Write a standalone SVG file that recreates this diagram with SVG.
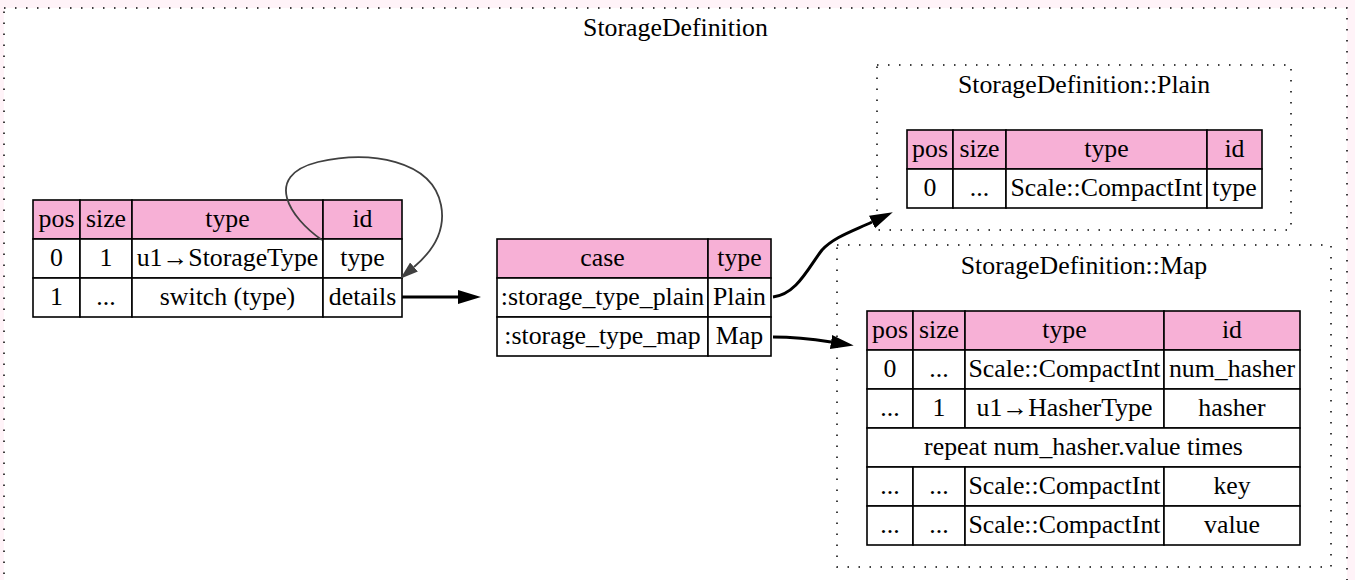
<svg xmlns="http://www.w3.org/2000/svg" width="1355" height="580" viewBox="0 0 1355 580">
<style>
.hdr{fill:#f7b0d6;stroke:#000;stroke-width:1.6}
.cell{fill:#fff;stroke:#000;stroke-width:1.6}
.t{font-family:"Liberation Serif","Times New Roman",serif;font-size:25.8px;text-anchor:middle;fill:#000}
.cl{fill:none;stroke:#000;stroke-width:1.5;stroke-dasharray:1.5 9.5}
.edge{fill:none;stroke:#000;stroke-width:3}
.loop{fill:none;stroke:#404040;stroke-width:1.8}
</style>
<defs>
<marker id="ah" markerUnits="userSpaceOnUse" markerWidth="26" markerHeight="18" refX="0" refY="8" orient="auto" viewBox="0 0 26 18">
<path d="M0,1 L23,8 L0,15 z" fill="#000"/>
</marker>
<marker id="ahg" markerUnits="userSpaceOnUse" markerWidth="20" markerHeight="14" refX="0" refY="6.5" orient="auto" viewBox="0 0 20 14">
<path d="M0,0.5 L18,6.5 L0,12.5 z" fill="#404040"/>
</marker>
</defs>
<rect x="0" y="0" width="1355" height="580" fill="#fff3f8"/>
<g id="cluster_StorageDefinition">
<rect x="4" y="8" width="1343" height="590" class="cl" style="fill:#fff"/>
<text class="t" x="675.5" y="36">StorageDefinition</text>
</g>
<g id="cluster_plain">
<rect x="877" y="65" width="414" height="165" class="cl"/>
<text class="t" x="1084" y="93">StorageDefinition::Plain</text>
</g>
<g id="cluster_map">
<rect x="837" y="245" width="494" height="322" class="cl"/>
<text class="t" x="1084" y="274">StorageDefinition::Map</text>
</g>
<g id="seq">
<rect class="hdr" x="33" y="200" width="47" height="39"/>
<rect class="hdr" x="80" y="200" width="52" height="39"/>
<rect class="hdr" x="132" y="200" width="191" height="39"/>
<rect class="hdr" x="323" y="200" width="79" height="39"/>
<rect class="cell" x="33" y="239" width="47" height="39"/>
<rect class="cell" x="80" y="239" width="52" height="39"/>
<rect class="cell" x="132" y="239" width="191" height="39"/>
<rect class="cell" x="323" y="239" width="79" height="39"/>
<rect class="cell" x="33" y="278" width="47" height="39"/>
<rect class="cell" x="80" y="278" width="52" height="39"/>
<rect class="cell" x="132" y="278" width="191" height="39"/>
<rect class="cell" x="323" y="278" width="79" height="39"/>
<text class="t" x="56.5" y="227">pos</text>
<text class="t" x="106" y="227">size</text>
<text class="t" x="227.5" y="227">type</text>
<text class="t" x="362.5" y="227">id</text>
<text class="t" x="56.5" y="266">0</text>
<text class="t" x="106" y="266">1</text>
<text class="t" x="227.5" y="266">u1→StorageType</text>
<text class="t" x="362.5" y="266">type</text>
<text class="t" x="56.5" y="305">1</text>
<text class="t" x="106" y="305">...</text>
<text class="t" x="227.5" y="305">switch (type)</text>
<text class="t" x="362.5" y="305">details</text>
</g>
<g id="switch_details">
<rect class="hdr" x="497" y="239" width="211" height="39"/>
<rect class="hdr" x="708" y="239" width="63" height="39"/>
<rect class="cell" x="497" y="278" width="211" height="39"/>
<rect class="cell" x="708" y="278" width="63" height="39"/>
<rect class="cell" x="497" y="317" width="211" height="39"/>
<rect class="cell" x="708" y="317" width="63" height="39"/>
<text class="t" x="602.5" y="266">case</text>
<text class="t" x="739.5" y="266">type</text>
<text class="t" x="602.5" y="305">:storage_type_plain</text>
<text class="t" x="739.5" y="305">Plain</text>
<text class="t" x="602.5" y="344">:storage_type_map</text>
<text class="t" x="739.5" y="344">Map</text>
</g>
<g id="plain_seq">
<rect class="hdr" x="907" y="130" width="46" height="39"/>
<rect class="hdr" x="953" y="130" width="53" height="39"/>
<rect class="hdr" x="1006" y="130" width="201" height="39"/>
<rect class="hdr" x="1207" y="130" width="55" height="39"/>
<rect class="cell" x="907" y="169" width="46" height="39"/>
<rect class="cell" x="953" y="169" width="53" height="39"/>
<rect class="cell" x="1006" y="169" width="201" height="39"/>
<rect class="cell" x="1207" y="169" width="55" height="39"/>
<text class="t" x="930" y="157">pos</text>
<text class="t" x="979.5" y="157">size</text>
<text class="t" x="1106.5" y="157">type</text>
<text class="t" x="1234.5" y="157">id</text>
<text class="t" x="930" y="196">0</text>
<text class="t" x="979.5" y="196">...</text>
<text class="t" x="1106.5" y="196">Scale::CompactInt</text>
<text class="t" x="1234.5" y="196">type</text>
</g>
<g id="map_seq">
<rect class="hdr" x="867" y="311" width="46" height="39"/>
<rect class="hdr" x="913" y="311" width="52" height="39"/>
<rect class="hdr" x="965" y="311" width="199" height="39"/>
<rect class="hdr" x="1164" y="311" width="136" height="39"/>
<rect class="cell" x="867" y="350" width="46" height="39"/>
<rect class="cell" x="913" y="350" width="52" height="39"/>
<rect class="cell" x="965" y="350" width="199" height="39"/>
<rect class="cell" x="1164" y="350" width="136" height="39"/>
<rect class="cell" x="867" y="389" width="46" height="39"/>
<rect class="cell" x="913" y="389" width="52" height="39"/>
<rect class="cell" x="965" y="389" width="199" height="39"/>
<rect class="cell" x="1164" y="389" width="136" height="39"/>
<rect class="cell" x="867" y="428" width="433" height="39"/>
<rect class="cell" x="867" y="467" width="46" height="39"/>
<rect class="cell" x="913" y="467" width="52" height="39"/>
<rect class="cell" x="965" y="467" width="199" height="39"/>
<rect class="cell" x="1164" y="467" width="136" height="39"/>
<rect class="cell" x="867" y="506" width="46" height="39"/>
<rect class="cell" x="913" y="506" width="52" height="39"/>
<rect class="cell" x="965" y="506" width="199" height="39"/>
<rect class="cell" x="1164" y="506" width="136" height="39"/>
<text class="t" x="890" y="338">pos</text>
<text class="t" x="939" y="338">size</text>
<text class="t" x="1064.5" y="338">type</text>
<text class="t" x="1232" y="338">id</text>
<text class="t" x="890" y="377">0</text>
<text class="t" x="939" y="377">...</text>
<text class="t" x="1064.5" y="377">Scale::CompactInt</text>
<text class="t" x="1232" y="377">num_hasher</text>
<text class="t" x="890" y="416">...</text>
<text class="t" x="939" y="416">1</text>
<text class="t" x="1064.5" y="416">u1→HasherType</text>
<text class="t" x="1232" y="416">hasher</text>
<text class="t" x="1083.5" y="455">repeat num_hasher.value times</text>
<text class="t" x="890" y="494">...</text>
<text class="t" x="939" y="494">...</text>
<text class="t" x="1064.5" y="494">Scale::CompactInt</text>
<text class="t" x="1232" y="494">key</text>
<text class="t" x="890" y="533">...</text>
<text class="t" x="939" y="533">...</text>
<text class="t" x="1064.5" y="533">Scale::CompactInt</text>
<text class="t" x="1232" y="533">value</text>
</g>
<g id="edges">
<path class="loop" d="M322,240 C290,218 262,176 318,162 C370,150 432,160 441,205 C446,230 434,250 414,267" marker-end="url(#ahg)"/>
<path class="edge" d="M402,297 L458,297" marker-end="url(#ah)"/>
<path class="edge" d="M773,297 C797,294 808,268 822,250 C834,237 853,231 872,222" marker-end="url(#ah)"/>
<path class="edge" d="M773,337 C795,337 812,339 831,342" marker-end="url(#ah)"/>
</g>
</svg>
